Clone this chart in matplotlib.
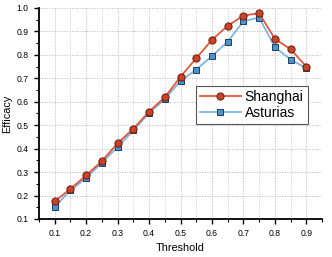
import matplotlib.pyplot as plt
from matplotlib.ticker import MultipleLocator

plt.rcParams['font.family'] = ['Liberation Sans', 'DejaVu Sans']

threshold = [0.1, 0.15, 0.2, 0.25, 0.3, 0.35, 0.4, 0.45, 0.5,
             0.55, 0.6, 0.65, 0.7, 0.75, 0.8, 0.85, 0.9]
shanghai = [0.176, 0.228, 0.286, 0.347, 0.423, 0.485, 0.558, 0.619, 0.707,
            0.786, 0.864, 0.924, 0.967, 0.978, 0.868, 0.824, 0.750]
asturias = [0.152, 0.222, 0.275, 0.340, 0.407, 0.478, 0.552, 0.611, 0.689,
            0.737, 0.795, 0.856, 0.943, 0.959, 0.833, 0.780, 0.743]

fig = plt.figure(figsize=(3.32, 2.57), dpi=100)
ax = fig.add_axes([0.1175, 0.148, 0.8525, 0.821])

ax.plot(threshold, shanghai, color='#e0583b', lw=1.3, marker='o', ms=5.2,
        mfc='#c9432a', mec='#6e1a0c', mew=0.7, label='Shanghai', zorder=4)
ax.plot(threshold, asturias, color='#7db6de', lw=1.3, marker='s', ms=4.8,
        mfc='#4d92c8', mec='#1c3f60', mew=0.7, label='Asturias', zorder=3)

ax.set_xlim(0.05, 0.95)
ax.set_ylim(0.1, 1.0)
ax.xaxis.set_major_locator(MultipleLocator(0.1))
ax.xaxis.set_minor_locator(MultipleLocator(0.05))
ax.yaxis.set_major_locator(MultipleLocator(0.1))
ax.yaxis.set_minor_locator(MultipleLocator(0.05))
ax.set_xticks([0.1, 0.2, 0.3, 0.4, 0.5, 0.6, 0.7, 0.8, 0.9])
ax.set_xticklabels(['0.1', '0.2', '0.3', '0.4', '0.5', '0.6', '0.7', '0.8', '0.9'])

ax.grid(True, which='major', axis='both', ls=(0, (1.5, 1.5)), color='#bdbdbd', lw=0.6)
ax.grid(True, which='minor', axis='x', ls=(0, (1.5, 1.5)), color='#d0d0d0', lw=0.6)

for s in ['top', 'right']:
    ax.spines[s].set_visible(False)
for s in ['left', 'bottom']:
    ax.spines[s].set_linewidth(1.3)

ax.tick_params(which='major', direction='out', length=3.5, width=1, labelsize=6.2, pad=4)
ax.tick_params(which='minor', direction='out', length=2, width=0.8)

ax.set_xlabel('Threshold', fontsize=7.8, labelpad=3)
ax.set_ylabel('Efficacy', fontsize=7.8, labelpad=3)

leg = ax.legend(loc='upper left', bbox_to_anchor=(0.555, 0.63), fontsize=10,
                frameon=True, fancybox=False, edgecolor='#555555', framealpha=1,
                handlelength=2.9, handletextpad=0.3, borderpad=0.3,
                labelspacing=0.15, borderaxespad=0)
leg.get_frame().set_linewidth(0.8)

fig.savefig('out.png', dpi=100)
